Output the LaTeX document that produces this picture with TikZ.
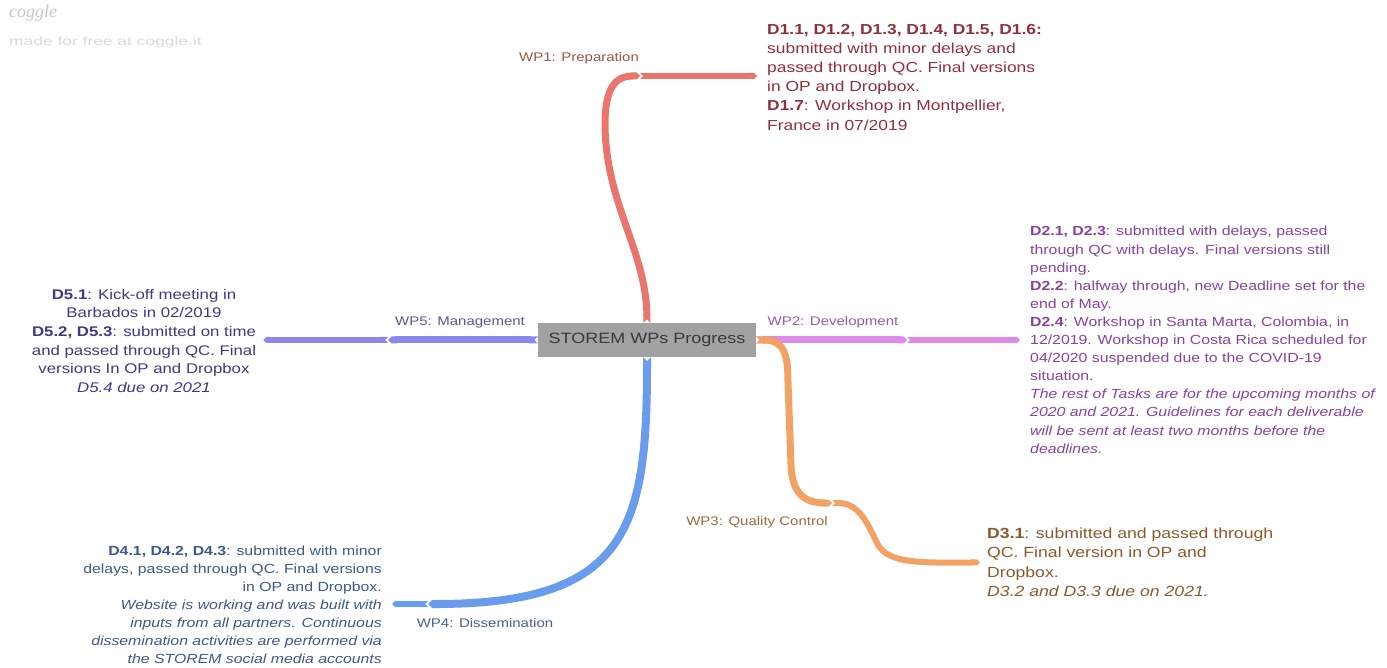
\documentclass[tikz,border=0pt]{standalone}
\usepackage{fontspec}
\setmainfont{Liberation Sans}[FakeStretch=1.2]
\newfontfamily\wmfont{Liberation Sans}[FakeStretch=1.45]
\newfontfamily\logofont{Liberation Serif}
\usepackage{xcolor}
\usepackage{tikz}
\usetikzlibrary{arrows.meta,backgrounds}

\definecolor{rootgrey}{HTML}{A2A2A2}
\definecolor{roottext}{HTML}{3A3A3A}
\definecolor{prepline}{HTML}{E8766D}
\definecolor{preplabel}{HTML}{A0524C}
\definecolor{preptext}{HTML}{922F3D}
\definecolor{devline}{HTML}{DD8AE8}
\definecolor{devlabel}{HTML}{9A56B2}
\definecolor{devtext}{HTML}{8A42A2}
\definecolor{qcline}{HTML}{F2A262}
\definecolor{qclabel}{HTML}{A06A3C}
\definecolor{qctext}{HTML}{8A5A2C}
\definecolor{dissline}{HTML}{6A9CEE}
\definecolor{disslabel}{HTML}{46628C}
\definecolor{disstext}{HTML}{3D5A86}
\definecolor{mgmtline}{HTML}{8C87EA}
\definecolor{mgmtlabel}{HTML}{5A5696}
\definecolor{mgmttext}{HTML}{3C3A86}

\begin{document}
\begin{tikzpicture}[x=1pt,y=-1pt,
  rootbox/.style={fill=rootgrey,text=roottext,minimum width=218pt,minimum height=34pt,
    inner sep=0pt,font=\fontsize{15}{18}\selectfont},
  branch/.style={line width=7pt,{Triangle Cap[reversed]}-{Triangle Cap}},
  twig/.style={branch,line width=6pt},
  wplabel/.style={inner sep=0pt,font=\fontsize{12.5}{15}\selectfont},
  notes/.style={inner sep=0pt}]
  \useasboundingbox (0,0) rectangle (1387,668);

  % watermark
  \node[anchor=west,inner sep=0pt,text=black!22,font=\logofont\itshape\fontsize{18}{20}\selectfont] (logo) at (9,13) {coggle};
  \node[anchor=west,inner sep=0pt,text=black!15,font=\wmfont\fontsize{12}{14}\selectfont] (madefor) at (9,42) {made for free at coggle.it};

  % centre
  \node[rootbox] (root) at (647,340) {STOREM WPs Progress};

  % branch labels
  \node[wplabel,text=preplabel] (wp1) at (579,58) {WP1: Preparation};
  \node[wplabel,text=devlabel] (wp2) at (833,322) {WP2: Development};
  \node[wplabel,text=qclabel] (wp3) at (757,522) {WP3: Quality Control};
  \node[wplabel,text=disslabel] (wp4) at (485,623) {WP4: Dissemination};
  \node[wplabel,text=mgmtlabel] (wp5) at (460,322) {WP5: Management};

  % notes
  \node[notes,anchor=north west,align=left,text=preptext,font=\fontsize{14.5}{19.2}\selectfont] (d1) at (767,23.7)
    {\textbf{D1.1, D1.2, D1.3, D1.4, D1.5, D1.6:}\\
     submitted with minor delays and\\
     passed through QC. Final versions\\
     in OP and Dropbox.\\
     \textbf{D1.7}: Workshop in Montpellier,\\
     France in 07/2019};
  \node[notes,anchor=north west,align=left,text=devtext,font=\fontsize{13.2}{18.1}\selectfont] (d2) at (1030,226.2)
    {\textbf{D2.1, D2.3}: submitted with delays, passed\\
     through QC with delays. Final versions still\\
     pending.\\
     \textbf{D2.2}: halfway through, new Deadline set for the\\
     end of May.\\
     \textbf{D2.4}: Workshop in Santa Marta, Colombia, in\\
     12/2019. Workshop in Costa Rica scheduled for\\
     04/2020 suspended due to the COVID-19\\
     situation.\\
     \textit{The rest of Tasks are for the upcoming months of}\\
     \textit{2020 and 2021. Guidelines for each deliverable}\\
     \textit{will be sent at least two months before the}\\
     \textit{deadlines.}};
  \node[notes,anchor=north west,align=left,text=qctext,font=\fontsize{14.7}{19.3}\selectfont] (d3) at (987,527.8)
    {\textbf{D3.1}: submitted and passed through\\
     QC. Final version in OP and\\
     Dropbox.\\
     \textit{D3.2 and D3.3 due on 2021.}};
  \node[notes,anchor=north east,align=right,text=disstext,font=\fontsize{13.2}{18}\selectfont] (d4) at (382,546.1)
    {\textbf{D4.1, D4.2, D4.3}: submitted with minor\\
     delays, passed through QC. Final versions\\
     in OP and Dropbox.\\
     \textit{Website is working and was built with}\\
     \textit{inputs from all partners. Continuous}\\
     \textit{dissemination activities are performed via}\\
     \textit{the STOREM social media accounts}};
  \node[notes,anchor=north,align=center,text=mgmttext,font=\fontsize{14}{18.6}\selectfont] (d5) at (144,289)
    {\textbf{D5.1}: Kick-off meeting in\\
     Barbados in 02/2019\\
     \textbf{D5.2, D5.3}: submitted on time\\
     and passed through QC. Final\\
     versions In OP and Dropbox\\
     \textit{D5.4 due on 2021}};

  % joints
  \coordinate (c1) at (640,76);
  \coordinate (c2) at (907,340);
  \coordinate (c3) at (832,503);
  \coordinate (c4) at (428,604);
  \coordinate (c5) at (388,340);

  \begin{scope}[on background layer]
    % WP1
    \draw[branch,draw=prepline] (root.north) .. controls (646,250) and (606,205) .. (605,125)
      .. controls (605,88) and (615,76) .. (c1);
    \draw[twig,draw=prepline,shorten >=10pt] (c1) -- (c1 -| d1.west);
    % WP2
    \draw[branch,draw=devline] (root.east) -- (c2);
    \draw[twig,draw=devline,shorten >=10pt] (c2) -- (c2 -| d2.west);
    % WP3
    \draw[branch,draw=qcline] (root.east) .. controls (783,340) and (788,352) .. (788,382)
      -- (791,465) .. controls (792,495) and (806,503) .. (c3);
    \draw[twig,draw=qcline,shorten >=7pt] (c3) .. controls (860,503) and (868,525) .. (878,545)
      .. controls (890,563) and (915,563) .. (d3.west);
    % WP4
    \draw[branch,draw=dissline,line width=8pt] (root.south) .. controls (647,527) and (628,604) .. (c4);
    \draw[twig,draw=dissline,shorten >=10pt] (c4) -- (c4 -| d4.east);
    % WP5
    \draw[branch,draw=mgmtline] (root.west) -- (c5);
    \draw[twig,draw=mgmtline,shorten >=7pt] (c5) -- (c5 -| d5.east);
  \end{scope}
\end{tikzpicture}
\end{document}
